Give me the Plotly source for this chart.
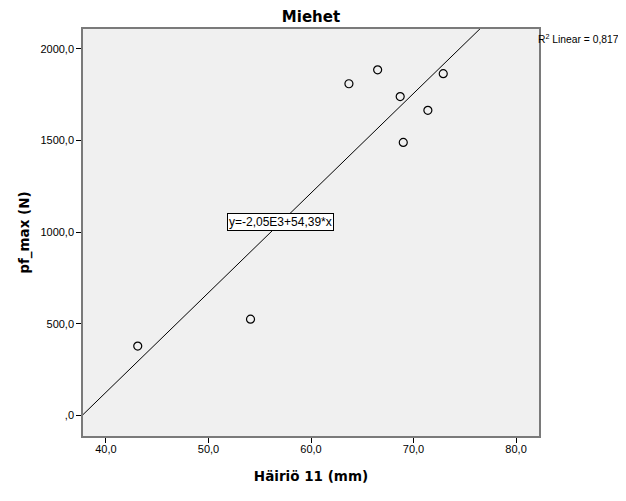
import plotly.graph_objects as go

# Data
x_vals = [43.1, 54.1, 63.7, 66.5, 68.7, 69.0, 71.4, 72.9]
y_vals = [378, 525, 1810, 1886, 1740, 1490, 1665, 1865]

intercept = -2050.0
slope = 54.39
r2_text = "R<sup>2</sup> Linear = 0,817"
eq_text = "y=-2,05E3+54,39*x"

x_ticks = [40, 50, 60, 70, 80]
x_ticktext = ["40,0", "50,0", "60,0", "70,0", "80,0"]
y_ticks = [0, 500, 1000, 1500, 2000]
y_ticktext = [",0", "500,0", "1000,0", "1500,0", "2000,0"]

x_range = [37.76, 82.24]
y_range = [-113, 2109]

# fit line through the axis range
line_x = [x_range[0], x_range[1]]
line_y = [intercept + slope * v for v in line_x]

W, H = 618, 493  # page adds an 8px body margin

fig = go.Figure()
fig.add_trace(go.Scatter(
    x=line_x, y=line_y, mode="lines",
    line=dict(color="black", width=1), hoverinfo="skip", showlegend=False,
))
fig.add_trace(go.Scatter(
    x=x_vals, y=y_vals, mode="markers",
    marker=dict(symbol="circle-open", size=8, color="black", line=dict(width=1.2)),
    showlegend=False,
))

fig.add_annotation(
    x=57.0, y=1054, xref="x", yref="y", text=eq_text, showarrow=False,
    bgcolor="white", bordercolor="black", borderwidth=1, borderpad=1,
    font=dict(family="Arial, Liberation Sans", size=12, color="black"),
)
fig.add_annotation(
    x=1.0, y=1.0, xref="paper", yref="paper", xanchor="left", yanchor="top",
    xshift=-3, yshift=-1, text=r2_text, showarrow=False,
    font=dict(family="Arial, Liberation Sans", size=10.3, color="black"),
)

fig.update_layout(
    width=W, height=H,
    margin=dict(l=75, r=87, t=21, b=65),
    paper_bgcolor="white", plot_bgcolor="#f0f0f0",
    title=dict(text="<b>Miehet</b>", x=0.5, xref="paper", xanchor="center",
               y=1 - 9 / H, yanchor="middle",
               font=dict(family="DejaVu Sans", size=15, color="black")),
    font=dict(family="Arial, Liberation Sans", size=11, color="black"),
)
fig.update_xaxes(
    range=x_range, tickvals=x_ticks, ticktext=x_ticktext,
    ticks="outside", ticklen=5, tickcolor="black", showgrid=False, zeroline=False,
    showline=True, linecolor="#7a7a7a", linewidth=1.5, mirror=True,
    ticklabelstandoff=-3,
    title=dict(text="<b>Häiriö 11 (mm)</b>",
               font=dict(family="DejaVu Sans", size=13.5, color="black"), standoff=18),
    tickfont=dict(size=11),
)
fig.update_yaxes(
    range=y_range, tickvals=y_ticks, ticktext=y_ticktext,
    ticks="outside", ticklen=5, tickcolor="black", showgrid=False, zeroline=False,
    showline=True, linecolor="#7a7a7a", linewidth=1.5, mirror=True,
    title=dict(text="<b>pf_max (N)</b>",
               font=dict(family="DejaVu Sans", size=13.5, color="black"), standoff=8),
    tickfont=dict(size=11),
)

fig.write_html("out.html")
